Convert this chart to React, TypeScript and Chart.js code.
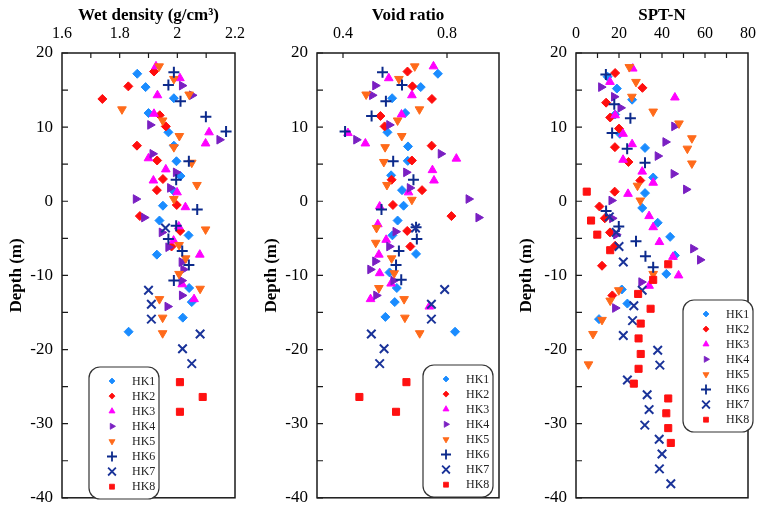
import React, { useEffect, useRef } from 'react';
import { Chart, registerables } from 'chart.js';
import { drawPoint } from 'chart.js/helpers';

Chart.register(...registerables);

type Pt = [number, number];

const SERIF = '"Liberation Serif", "Times New Roman", serif';

const SERIES_NAMES = ['HK1', 'HK2', 'HK3', 'HK4', 'HK5', 'HK6', 'HK7', 'HK8'];
const SERIES_COLORS = ['#1a8cff', '#ff0d0d', '#ff00ff', '#7a1fc2', '#ff6a1a', '#0c2a8c', '#1a3399', '#ff1111'];

const DEPTH_LABELS = [-40, -30, -20, -10, 0, 10, 20];
const DEPTH_MARKS = [-40, -35, -30, -25, -20, -15, -10, -5, 0, 5, 10, 15, 20];

// ---------- Wet density (g/cm3) ----------
const densHK1: Pt[] = [[1.861, 17.2], [1.890, 15.4], [1.988, 13.9], [1.900, 11.9], [1.969, 9.3], [1.988, 7.5], [1.997, 5.4], [2.011, 3.4], [1.987, 1.4], [1.950, -0.6], [1.938, -2.6], [2.039, -4.6], [1.929, -7.2], [2.041, -11.7], [2.050, -13.6], [2.019, -15.7], [1.831, -17.6]];
const densHK2: Pt[] = [[1.919, 17.5], [1.830, 15.5], [1.740, 13.8], [1.939, 11.6], [1.960, 10.1], [1.860, 7.5], [1.930, 5.5], [1.950, 3.0], [1.929, 1.5], [1.998, -0.5], [1.870, -2.0], [2.010, -4.0], [1.980, -6.1]];
const densHK3: Pt[] = [[1.926, 18.2], [2.009, 16.6], [1.931, 14.3], [1.919, 11.8], [2.110, 9.3], [2.098, 7.8], [1.900, 5.8], [1.960, 4.3], [1.917, 2.8], [1.999, 1.2], [2.028, -0.8], [2.005, -3.4], [1.987, -5.3], [2.078, -7.2], [2.017, -11.2], [2.058, -13.2]];
const densHK4: Pt[] = [[2.016, 15.6], [2.051, 14.3], [1.906, 10.3], [2.146, 8.3], [1.914, 6.4], [1.995, 3.9], [1.975, 1.8], [1.856, 0.3], [1.885, -2.2], [1.946, -4.2], [1.969, -6.2], [2.015, -8.2], [2.021, -9.2], [2.015, -10.7], [2.016, -12.7], [1.966, -14.2]];
const densHK5: Pt[] = [[1.937, 18.2], [1.988, 16.5], [2.041, 14.4], [1.808, 12.4], [1.949, 10.9], [2.007, 8.8], [1.988, 7.3], [2.050, 5.2], [2.068, 2.2], [1.988, 0.3], [2.098, -3.8], [2.006, -5.9], [2.029, -7.7], [2.006, -9.8], [2.079, -11.8], [1.938, -13.2], [1.949, -15.7], [1.949, -17.8]];
const densHK6: Pt[] = [[1.988, 17.4], [1.969, 15.7], [2.011, 13.5], [2.099, 11.4], [2.169, 9.4], [2.040, 5.4], [1.996, 2.9], [2.069, -1.1], [1.996, -3.3], [1.969, -5.1], [2.017, -6.7], [2.040, -8.6], [1.988, -10.7]];
const densHK7: Pt[] = [[1.959, -3.6], [1.900, -12.0], [1.910, -13.9], [1.910, -15.9], [2.079, -17.9], [2.018, -19.9], [2.050, -21.9]];
const densHK8: Pt[] = [[2.009, -24.4], [2.088, -26.4], [2.009, -28.4]];

// ---------- Void ratio ----------
const voidHK1: Pt[] = [[0.765, 17.2], [0.699, 15.4], [0.589, 13.9], [0.639, 11.9], [0.571, 9.3], [0.650, 7.4], [0.649, 5.45], [0.585, 3.5], [0.627, 1.5], [0.633, -0.6], [0.610, -2.6], [0.590, -4.6], [0.681, -7.1], [0.579, -9.6], [0.607, -11.7], [0.599, -13.6], [0.563, -15.6], [0.831, -17.6]];
const voidHK2: Pt[] = [[0.648, 17.5], [0.667, 15.5], [0.742, 13.8], [0.544, 11.5], [0.560, 10.1], [0.741, 7.5], [0.665, 5.5], [0.587, 2.9], [0.704, 1.5], [0.592, -0.5], [0.817, -2.0], [0.647, -4.0], [0.659, -6.1]];
const voidHK3: Pt[] = [[0.748, 18.2], [0.576, 16.6], [0.665, 14.3], [0.625, 11.7], [0.419, 9.2], [0.486, 7.8], [0.836, 5.75], [0.744, 4.2], [0.750, 2.8], [0.652, 1.2], [0.541, -0.7], [0.534, -3.1], [0.566, -5.2], [0.538, -7.2], [0.541, -9.7], [0.585, -11.1], [0.506, -13.2], [0.732, -14.2]];
const voidHK4: Pt[] = [[0.524, 15.6], [0.512, 14.3], [0.578, 10.3], [0.451, 8.3], [0.776, 6.4], [0.643, 3.9], [0.657, 1.8], [0.883, 0.3], [0.921, -2.2], [0.602, -4.1], [0.578, -6.1], [0.524, -8.1], [0.505, -9.2], [0.594, -10.7], [0.528, -12.7]];
const voidHK5: Pt[] = [[0.676, 18.2], [0.615, 16.5], [0.489, 14.4], [0.694, 12.4], [0.610, 10.9], [0.626, 8.8], [0.562, 7.3], [0.557, 5.3], [0.569, 2.2], [0.665, 0.2], [0.529, -3.6], [0.526, -5.6], [0.587, -7.7], [0.597, -9.7], [0.538, -11.7], [0.635, -13.2], [0.638, -15.7], [0.695, -17.8]];
const voidHK6: Pt[] = [[0.552, 17.4], [0.627, 15.7], [0.565, 13.5], [0.510, 11.5], [0.408, 9.4], [0.593, 5.4], [0.671, 2.9], [0.548, -1.1], [0.681, -3.5], [0.684, -5.1], [0.615, -6.7], [0.604, -8.6], [0.624, -10.6]];
const voidHK7: Pt[] = [[0.679, -3.6], [0.791, -11.9], [0.740, -13.9], [0.740, -15.9], [0.509, -17.9], [0.558, -19.9], [0.541, -21.9]];
const voidHK8: Pt[] = [[0.644, -24.4], [0.463, -26.4], [0.604, -28.4]];

// ---------- SPT-N ----------
const sptHK1: Pt[] = [[14.7, 16.8], [19.0, 15.2], [26.1, 13.7], [18.2, 11.7], [20.4, 9.1], [32.1, 7.2], [35.9, 3.2], [32.1, 1.1], [30.8, -0.9], [38.0, -2.9], [43.8, -4.8], [46.0, -7.3], [42.0, -9.8], [21.3, -11.9], [23.9, -13.8], [10.7, -15.9]];
const sptHK2: Pt[] = [[18.2, 17.3], [30.9, 15.3], [14.0, 13.3], [15.9, 11.3], [20.0, 9.8], [18.1, 7.3], [24.4, 5.3], [29.9, 2.8], [18.0, 1.3], [10.9, -0.7], [13.4, -2.3], [15.8, -4.2], [18.2, -6.0], [12.1, -8.7], [16.9, -12.7]];
const sptHK3: Pt[] = [[26.4, 17.9], [15.8, 16.1], [46.0, 14.0], [18.2, 11.6], [21.9, 9.1], [26.1, 7.7], [21.9, 5.6], [30.8, 4.0], [35.9, 2.5], [24.2, 1.0], [34.0, -2.0], [35.9, -3.5], [38.8, -5.5], [45.1, -7.5], [47.7, -10.0], [34.0, -11.4]];
const sptHK4: Pt[] = [[11.7, 15.4], [17.7, 14.1], [20.7, 12.6], [45.7, 10.1], [41.6, 8.0], [38.0, 6.1], [45.4, 3.7], [51.2, 1.6], [16.5, 0.1], [16.8, -2.3], [18.7, -4.5], [54.5, -6.4], [57.7, -7.9], [30.4, -10.9], [18.2, -14.4]];
const sptHK5: Pt[] = [[24.8, 18.1], [27.9, 16.1], [26.0, 14.1], [35.9, 12.1], [47.9, 10.5], [53.9, 8.5], [51.8, 7.1], [53.9, 5.1], [28.6, 2.1], [29.9, 0.1], [35.9, -9.8], [19.9, -12.0], [15.9, -13.4], [12.1, -16.0], [7.9, -17.9], [5.8, -22.0]];
const sptHK6: Pt[] = [[13.9, 17.1], [17.8, 13.1], [25.3, 11.2], [16.8, 9.2], [23.8, 7.1], [32.1, 5.2], [14.0, -1.3], [19.9, -3.4], [27.9, -5.4], [32.3, -7.4], [35.9, -8.9]];
const sptHK7: Pt[] = [[15.5, -2.1], [18.7, -4.2], [20.0, -6.1], [22.0, -8.2], [30.8, -12.0], [26.9, -14.1], [26.3, -16.1], [22.0, -18.1], [38.0, -20.1], [39.0, -22.1], [23.9, -24.1], [33.1, -26.1], [34.0, -28.1], [32.0, -30.2], [38.7, -32.1], [40.0, -34.1], [38.8, -36.1], [44.1, -38.1]];
const sptHK8: Pt[] = [[5.0, 1.3], [7.0, -2.6], [9.9, -4.5], [15.9, -6.6], [42.9, -8.5], [35.9, -10.6], [28.9, -12.5], [34.7, -14.5], [30.1, -16.5], [29.1, -18.5], [30.1, -20.6], [29.1, -22.6], [26.9, -24.6], [42.9, -26.6], [42.0, -28.6], [42.9, -30.6], [44.1, -32.6]];

// x-axis labels / tick marks
const densLabels = [1.6, 1.8, 2, 2.2];
const densMarks = [1.7, 1.8, 1.9, 2, 2.1];
const voidLabels = [0.4, 0.8];
const voidMarks = [0.4, 0.8];
const sptLabels = [0, 20, 40, 60, 80];
const sptMarks = [10, 20, 30, 40, 50, 60, 70];

const MARKERS = [
  { style: 'rectRot', rot: 0, r: 4.5, bw: 1, lr: 3 },
  { style: 'rectRot', rot: 0, r: 4.5, bw: 1, lr: 3 },
  { style: 'triangle', rot: 0, r: 5, bw: 1, lr: 3.5 },
  { style: 'triangle', rot: 90, r: 5, bw: 1, lr: 3.5 },
  { style: 'triangle', rot: 180, r: 5, bw: 1, lr: 3.5 },
  { style: 'cross', rot: 0, r: 5.5, bw: 2, lr: 5 },
  { style: 'crossRot', rot: 0, r: 6, bw: 2, lr: 5.5 },
  { style: 'rect', rot: 0, r: 5, bw: 1, lr: 3.5 },
];

interface PanelProps {
  title: string;
  xMin: number;
  xMax: number;
  xLabels: number[];
  xMarks: number[];
  series: Pt[][];
  left: number;
  width: number;
  yAxisWidth: number;
  rightPad: number;
  legendDx: number;
  legendTop: number;
}

function Panel(p: PanelProps) {
  const ref = useRef<HTMLCanvasElement>(null);
  useEffect(() => {
    if (!ref.current) return;
    const datasets = p.series.map((pts, i) => ({
      label: SERIES_NAMES[i],
      data: pts.map(([x, y]) => ({ x, y })),
      pointStyle: MARKERS[i].style,
      pointRotation: MARKERS[i].rot,
      pointRadius: MARKERS[i].r,
      pointHoverRadius: MARKERS[i].r,
      pointBackgroundColor: SERIES_COLORS[i],
      pointBorderColor: SERIES_COLORS[i],
      pointBorderWidth: MARKERS[i].bw,
      backgroundColor: SERIES_COLORS[i],
      borderColor: SERIES_COLORS[i],
      showLine: false,
      order: 7 - i,
    }));
    const framePlugin = {
      id: 'frameAndLegend',
      afterDraw(chart: any) {
        const { ctx, chartArea: a, scales } = chart;
        ctx.save();
        ctx.strokeStyle = '#1a1a1a';
        ctx.lineWidth = 1.5;
        ctx.strokeRect(a.left, a.top, a.right - a.left, a.bottom - a.top);
        ctx.lineWidth = 1.2;
        ctx.beginPath();
        for (const v of DEPTH_MARKS) {
          const y = scales.y.getPixelForValue(v);
          ctx.moveTo(a.left, y);
          ctx.lineTo(a.left + 6, y);
        }
        for (const v of p.xMarks) {
          const x = scales.x.getPixelForValue(v);
          ctx.moveTo(x, a.top);
          ctx.lineTo(x, a.top + 5);
        }
        ctx.stroke();

        // legend box
        const bx = a.left + p.legendDx;
        const by = p.legendTop;
        const bw = 70;
        const bh = 132;
        ctx.fillStyle = '#ffffff';
        ctx.strokeStyle = '#333';
        ctx.lineWidth = 1.2;
        ctx.beginPath();
        (ctx as any).roundRect(bx, by, bw, bh, 11);
        ctx.fill();
        ctx.stroke();
        ctx.font = '12px ' + SERIF;
        ctx.textBaseline = 'middle';
        ctx.textAlign = 'left';
        SERIES_NAMES.forEach((name, i) => {
          const y = by + 14 + i * 15.1;
          const m = MARKERS[i];
          ctx.fillStyle = SERIES_COLORS[i];
          ctx.strokeStyle = SERIES_COLORS[i];
          ctx.lineWidth = m.bw > 1 ? 1.8 : 0.8;
          drawPoint(ctx, { pointStyle: m.style as any, rotation: m.rot, radius: m.lr, borderWidth: m.bw }, bx + 23, y);
          ctx.fillStyle = '#222';
          ctx.fillText(name, bx + 43, y + 0.5);
        });
        ctx.restore();
      },
    };
    const chart = new Chart(ref.current, {
      type: 'scatter',
      data: { datasets: datasets as any },
      options: {
        animation: false,
        responsive: false,
        events: [],
        layout: { padding: { left: 0, right: p.rightPad, top: 0, bottom: 9 } },
        plugins: { legend: { display: false }, tooltip: { enabled: false } },
        scales: {
          x: {
            type: 'linear',
            position: 'top',
            min: p.xMin,
            max: p.xMax,
            afterBuildTicks: (s: any) => {
              s.ticks = p.xLabels.map((v) => ({ value: v }));
            },
            afterFit: (s: any) => {
              s.height = 53;
            },
            grid: { display: false, drawTicks: false },
            border: { display: false },
            ticks: {
              color: '#000',
              font: { family: SERIF, size: 16 },
              padding: 10,
              autoSkip: false,
              maxRotation: 0,
              callback: (v: any) => String(v),
            },
            title: {
              display: true,
              text: p.title,
              color: '#000',
              font: { family: SERIF, size: 17, weight: 'bold' },
              padding: { top: 5, bottom: 0 },
            },
          },
          y: {
            type: 'linear',
            min: -40,
            max: 20,
            afterBuildTicks: (s: any) => {
              s.ticks = DEPTH_LABELS.map((v) => ({ value: v }));
            },
            afterFit: (s: any) => {
              s.width = p.yAxisWidth;
            },
            grid: { display: false, drawTicks: false },
            border: { display: false },
            ticks: {
              color: '#000',
              font: { family: SERIF, size: 17 },
              padding: 9,
              autoSkip: false,
              callback: (v: any) => String(v),
            },
            title: {
              display: true,
              text: 'Depth (m)',
              color: '#000',
              font: { family: SERIF, size: 17, weight: 'bold' },
              padding: { top: 6, bottom: 0 },
            },
          },
        },
      },
      plugins: [framePlugin],
    } as any);
    return () => chart.destroy();
  }, []);
  return (
    <canvas
      ref={ref}
      width={p.width}
      height={517}
      style={{ position: 'absolute', left: p.left, top: 0, width: p.width, height: 517 }}
    />
  );
}

export default function App() {
  return (
    <div style={{ position: 'absolute', left: 0, top: 0, width: 766, height: 517, background: '#fff', overflow: 'hidden' }}>
      <Panel
        title="Wet density (g/cm³)"
        xMin={1.6}
        xMax={2.2}
        xLabels={densLabels}
        xMarks={densMarks}
        series={[densHK1, densHK2, densHK3, densHK4, densHK5, densHK6, densHK7, densHK8]}
        left={0}
        width={255}
        yAxisWidth={62}
        rightPad={10}
        legendDx={27}
        legendTop={367}
      />
      <Panel
        title="Void ratio"
        xMin={0.3}
        xMax={1.0}
        xLabels={voidLabels}
        xMarks={voidMarks}
        series={[voidHK1, voidHK2, voidHK3, voidHK4, voidHK5, voidHK6, voidHK7, voidHK8]}
        left={255}
        width={255}
        yAxisWidth={62}
        rightPad={11}
        legendDx={106}
        legendTop={365}
      />
      <Panel
        title="SPT-N"
        xMin={0}
        xMax={80}
        xLabels={sptLabels}
        xMarks={sptMarks}
        series={[sptHK1, sptHK2, sptHK3, sptHK4, sptHK5, sptHK6, sptHK7, sptHK8]}
        left={510}
        width={256}
        yAxisWidth={66}
        rightPad={8}
        legendDx={107}
        legendTop={300}
      />
    </div>
  );
}
